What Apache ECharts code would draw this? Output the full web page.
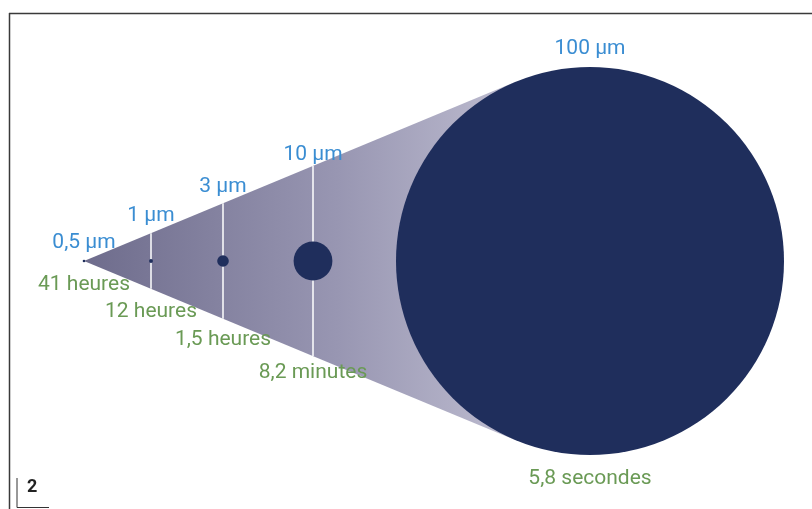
<!DOCTYPE html>
<html>
<head>
<meta charset="utf-8">
<script src="https://cdn.jsdelivr.net/npm/echarts@6/dist/echarts.min.js"></script>
<style>
  html, body { margin: 0; padding: 0; background: #ffffff; }
  #chart { width: 812px; height: 509px; }
</style>
</head>
<body>
<div id="chart"></div>
<script>
// ---- data ----
const sizeLabels = ['0,5 µm', '1 µm', '3 µm', '10 µm', '100 µm'];
const diametersUm = [0.5, 1, 3, 10, 100];
const timeLabels = ['41 heures', '12 heures', '1,5 heures', '8,2 minutes', '5,8 secondes'];
const distance = [84, 151, 223, 313, 590];

// ---- style constants ----
const RADIUS_PER_UM = 1.94;          // axis units of radius per µm
const LABEL_GAP = [21, 20, 19, 14, 21];
const TEXT_SHIFT = 2.5;
const CIRCLE_COLOR = '#1f2e5c';
const BLUE = '#3a8dd2';
const GREEN = '#6a9a55';
const FONT = 'Roboto, "Noto Sans", sans-serif';
const FS = 21;

const last = diametersUm.length - 1;
const points = distance.map((x, i) => [x, 0, diametersUm[i], i]);

function geometry(api) {
  const apex = api.coord([distance[0], 0]);
  const big = api.coord([distance[last], 0]);
  const R = api.size([diametersUm[last] * RADIUS_PER_UM, 0])[0];
  const d = big[0] - apex[0];
  const s = R / d, c = Math.sqrt(1 - s * s);
  return { apex, big, R, s, c, tan: s / c };
}

const chart = echarts.init(document.getElementById('chart'), null, { renderer: 'canvas' });

chart.setOption({
  animation: false,
  grid: { left: 0, right: 0, top: 0, bottom: 0 },
  xAxis: { type: 'value', min: 0, max: 812, show: false },
  yAxis: { type: 'value', min: -248, max: 261, show: false },
  graphic: [
    { type: 'line', shape: { x1: 9, y1: 13.5, x2: 812, y2: 13.5 }, style: { stroke: '#3a3a3a', lineWidth: 1.5 }, z: 10 },
    { type: 'line', shape: { x1: 9.5, y1: 13, x2: 9.5, y2: 509 }, style: { stroke: '#3a3a3a', lineWidth: 1.5 }, z: 10 },
    { type: 'polyline', shape: { points: [[17, 478], [17, 507.5], [49, 507.5]] }, style: { stroke: '#333', lineWidth: 1, fill: null }, z: 10 },
    { type: 'text', x: 27, y: 487, style: { text: '2', fill: '#222', font: 'bold 18px Roboto, sans-serif', verticalAlign: 'middle', align: 'left' }, z: 10 }
  ],
  series: [
    {
      type: 'custom',
      name: 'cone',
      coordinateSystem: 'cartesian2d',
      clip: false,
      silent: true,
      data: [[distance[0], 0]],
      renderItem: function (params, api) {
        const g = geometry(api);
        const up = [g.big[0] - g.R * g.s, g.big[1] - g.R * g.c];
        const dn = [g.big[0] - g.R * g.s, g.big[1] + g.R * g.c];
        return {
          type: 'polygon',
          shape: { points: [g.apex, up, g.big, dn] },
          style: {
            fill: {
              type: 'linear', x: 0, y: 0, x2: 1, y2: 0,
              colorStops: [
                { offset: 0, color: '#6e6c8c' },
                { offset: 0.5, color: '#9896b2' },
                { offset: 1, color: '#cdccdc' }
              ]
            }
          }
        };
      },
      z: 1
    },
    {
      type: 'custom',
      name: 'particles',
      coordinateSystem: 'cartesian2d',
      clip: false,
      silent: true,
      data: points,
      renderItem: function (params, api) {
        const g = geometry(api);
        const i = api.value(3);
        const p = api.coord([api.value(0), api.value(1)]);
        const r = Math.max(api.size([api.value(2) * RADIUS_PER_UM, 0])[0], 1.3);
        let h;
        if (i === last) h = r;
        else h = (p[0] - g.apex[0]) * g.tan;
        const children = [];
        if (i > 0 && i < last) {
          children.push({
            type: 'line',
            shape: { x1: p[0], y1: p[1] - h, x2: p[0], y2: p[1] + h },
            style: { stroke: '#ffffff', lineWidth: 1.5 }
          });
        }
        children.push({
          type: 'circle',
          shape: { cx: p[0], cy: p[1], r: r },
          style: { fill: CIRCLE_COLOR }
        });
        const gap = LABEL_GAP[i];
        children.push({
          type: 'text',
          style: {
            text: sizeLabels[i], x: p[0], y: p[1] - h - gap + TEXT_SHIFT,
            fill: BLUE, fontSize: FS, fontFamily: FONT,
            align: 'center', verticalAlign: 'middle'
          }
        });
        children.push({
          type: 'text',
          style: {
            text: timeLabels[i], x: p[0], y: p[1] + h + gap + TEXT_SHIFT,
            fill: GREEN, fontSize: FS, fontFamily: FONT,
            align: 'center', verticalAlign: 'middle'
          }
        });
        return { type: 'group', children: children };
      },
      z: 2
    }
  ]
});
</script>
</body>
</html>
